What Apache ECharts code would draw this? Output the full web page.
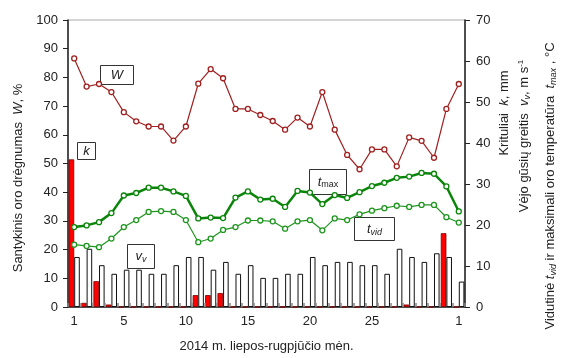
<!DOCTYPE html>
<html lang="lt">
<head>
    <meta charset="UTF-8">
    <title>2014 m. liepos-rugpjūčio mėn.</title>
    <script src="https://cdn.jsdelivr.net/npm/echarts@6/dist/echarts.min.js"></script>
</head>
<body style="margin: 0">
<div id="main" style="width: 561px;height: 358px"></div>

<script>
    // dienos: liepos 1..31 ir rugpjūčio 1
    const days = ['1', '2', '3', '4', '5', '6', '7', '8', '9', '10', '11', '12', '13', '14', '15', '16',
        '17', '18', '19', '20', '21', '22', '23', '24', '25', '26', '27', '28', '29', '30', '31', '1'];
    const shownDays = [0, 4, 9, 14, 19, 24, 31];

    // santykinis oro drėgnumas W, %
    const humidity = [86.6, 76.8, 77.7, 74.9, 67.9, 64.7, 62.9, 62.9, 58.0, 62.9, 77.8, 82.9, 79.7, 69.0, 69.0, 66.9,
        64.8, 61.8, 66.0, 62.9, 74.9, 61.8, 53.0, 48.0, 54.9, 54.9, 49.0, 59.1, 57.9, 52.0, 69.0, 77.7];
    // maksimali temperatūra, °C
    const tMax = [19.5, 19.9, 20.7, 22.9, 27.2, 27.8, 29.1, 29.1, 28.2, 27.1, 21.6, 21.8, 21.7, 26.7, 28.2, 26.2,
        26.4, 24.4, 28.3, 27.9, 25.1, 27.3, 26.6, 28.0, 29.5, 30.3, 31.5, 31.8, 32.7, 32.5, 29.4, 23.3];
    // vidutinė temperatūra, °C
    const tVid = [15.2, 14.9, 14.6, 16.7, 19.5, 21.2, 23.2, 23.4, 23.2, 21.2, 15.8, 16.7, 18.8, 19.5, 21.1, 21.1,
        20.9, 19.1, 20.9, 21.2, 18.7, 21.6, 21.2, 22.6, 23.5, 24.1, 24.7, 24.4, 24.9, 24.9, 21.9, 20.6];
    // krituliai k, mm
    const rain = [36.0, 1.0, 6.3, 0.6, 0, 0, 0, 0, 0, 0, 2.9, 2.9, 3.4, 0, 0, 0,
        0, 0, 0, 0, 0, 0, 0, 0, 0, 0, 0, 0.6, 0, 0, 18.0, 0];
    // vėjo gūsių greitis, m/s
    const gust = [12.2, 14.2, 10.2, 8.1, 9.1, 9.1, 8.1, 8.1, 10.2, 12.2, 12.2, 9.1, 11.0, 8.1, 10.2, 7.1,
        7.1, 8.1, 8.1, 12.2, 10.2, 11.0, 11.0, 10.2, 10.2, 8.1, 14.2, 12.2, 11.0, 13.1, 12.2, 6.2];

    const font = 'Liberation Sans, Arial, sans-serif';
    const chart = echarts.init(document.getElementById('main'));

    const rich = {
        i: {fontStyle: 'italic', fontSize: 13, fontFamily: font, color: '#222'},
        s: {fontSize: 9, fontFamily: font, color: '#222', padding: [6, 0, 0, 0]},
        si: {fontStyle: 'italic', fontSize: 9, fontFamily: font, color: '#222', padding: [6, 0, 0, 0]},
        sup: {fontSize: 8, fontFamily: font, color: '#222', padding: [0, 0, 7, 0]}
    };

    function labelBox(x, y, w, h, text) {
        return {
            type: 'group',
            left: x,
            top: y,
            children: [
                {type: 'rect', shape: {x: 0, y: 0, width: w, height: h},
                    style: {fill: '#fff', stroke: '#333', lineWidth: 1}},
                {type: 'text', x: w / 2, y: h / 2,
                    style: {text: text, rich: rich, align: 'center', verticalAlign: 'middle',
                        fontSize: 15, fontFamily: font, fill: '#222'}}
            ]
        };
    }

    function sideText(x, y, text) {
        return {
            type: 'text', x: x, y: y, rotation: Math.PI / 2,
            style: {text: text, rich: rich, align: 'center', verticalAlign: 'middle',
                fontSize: 13, fontFamily: font, fill: '#222'}
        };
    }

    const option = {
        animation: false,
        grid: {left: 68, right: 96, top: 20, bottom: 48, show: true, borderColor: '#aaa', borderWidth: 1},
        xAxis: [
            {
                type: 'category',
                data: days,
                axisLine: {lineStyle: {color: '#222', width: 1.5}},
                axisTick: {interval: 0, length: 4, lineStyle: {color: '#222'}},
                axisLabel: {
                    interval: (idx) => shownDays.includes(idx),
                    color: '#222', fontSize: 13, fontFamily: font, margin: 8
                },
                name: '2014 m. liepos-rugpjūčio mėn.',
                nameLocation: 'middle',
                nameGap: 33,
                nameTextStyle: {color: '#222', fontSize: 13, fontFamily: font}
            },
            {
                type: 'category',
                data: days,
                position: 'bottom',
                z: 5,
                axisLine: {show: true, lineStyle: {color: 'rgba(0,0,0,0)'}},
                axisTick: {show: true, interval: 0, inside: true, length: 4, lineStyle: {color: '#888', width: 1.5}},
                axisLabel: {show: false}
            }
        ],
        yAxis: [
            {
                type: 'value', min: 0, max: 100, interval: 10,
                axisLine: {show: true, lineStyle: {color: '#222', width: 1.5}},
                axisTick: {show: true, length: 5, lineStyle: {color: '#222'}},
                axisLabel: {color: '#222', fontSize: 13, fontFamily: font, margin: 10},
                splitLine: {show: false}
            },
            {
                type: 'value', min: 0, max: 70, interval: 10,
                axisLine: {show: true, lineStyle: {color: '#222', width: 1.5}},
                axisTick: {show: true, length: 5, lineStyle: {color: '#222'}},
                axisLabel: {color: '#222', fontSize: 13, fontFamily: font, margin: 11},
                splitLine: {show: false}
            }
        ],
        graphic: [
            sideText(18, 178, 'Santykinis oro drėgnumas  {i|W}, %'),
            sideText(504, 113, 'Krituliai  {i|k}, mm'),
            sideText(524, 136, 'Vėjo gūsių greitis  {i|v}{si|v}, m s{sup|-1}'),
            sideText(550, 186, 'Vidutinė {i|t}{si|vid} ir maksimali oro temperatūra  {i|t}{si|max} , °C'),
            labelBox(100, 65, 33, 19, '{i|W}'),
            labelBox(77, 142, 18, 17, '{i|k}'),
            labelBox(127, 244, 27, 24, '{i|v}{si|v}'),
            labelBox(309, 169, 37, 25, '{i|t}{s|max}'),
            labelBox(354, 217, 40, 23, '{i|t}{si|vid}')
        ],
        series: [
            {
                name: 'k', type: 'bar', yAxisIndex: 1, data: rain,
                barGap: '0%', barCategoryGap: '10%',
                itemStyle: {color: '#ff0000', borderColor: '#7a0000', borderWidth: 0.8}
            },
            {
                name: 'vv', type: 'bar', yAxisIndex: 1, data: gust,
                itemStyle: {color: '#fff', borderColor: '#111', borderWidth: 1}
            },
            {
                name: 'W', type: 'line', yAxisIndex: 0, data: humidity,
                symbol: 'circle', symbolSize: 5,
                lineStyle: {color: '#a02020', width: 1.2},
                itemStyle: {color: '#fff', borderColor: '#a02020', borderWidth: 1.3}
            },
            {
                name: 'tmax', type: 'line', yAxisIndex: 1, data: tMax,
                symbol: 'circle', symbolSize: 5,
                lineStyle: {color: '#0a850a', width: 2.5},
                itemStyle: {color: '#fff', borderColor: '#0a850a', borderWidth: 1.3}
            },
            {
                name: 'tvid', type: 'line', yAxisIndex: 1, data: tVid,
                symbol: 'circle', symbolSize: 5,
                lineStyle: {color: '#1e961e', width: 1.2},
                itemStyle: {color: '#fff', borderColor: '#1e961e', borderWidth: 1.3}
            }
        ]
    };
    chart.setOption(option);
</script>
</body>
</html>
